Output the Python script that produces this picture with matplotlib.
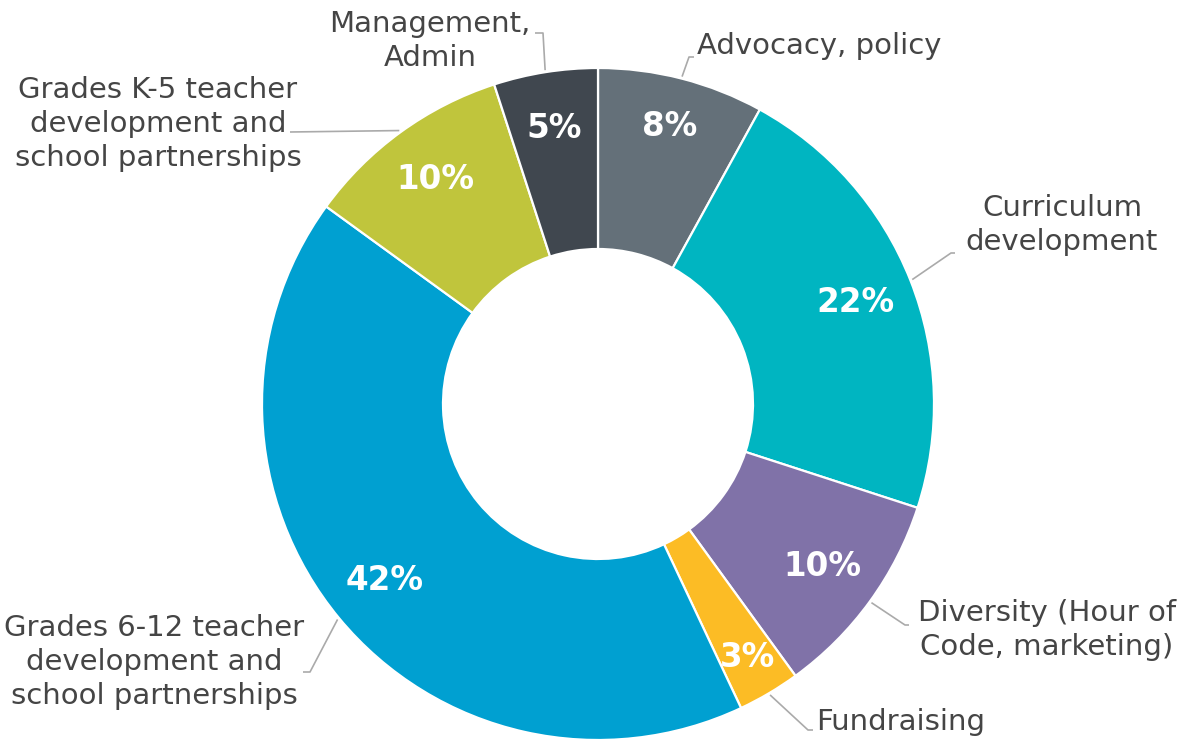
import numpy as np
import matplotlib
matplotlib.use("Agg")
import matplotlib.pyplot as plt

# budget share by area, clockwise from 12 o'clock
labels = ["Advocacy, policy",
          "Curriculum\ndevelopment",
          "Diversity (Hour of\nCode, marketing)",
          "Fundraising",
          "Grades 6-12 teacher\ndevelopment and\nschool partnerships",
          "Grades K-5 teacher\ndevelopment and\nschool partnerships",
          "Management,\nAdmin"]
shares = [8, 22, 10, 3, 42, 10, 5]
colors = ["#647079", "#00b5c1", "#8072a8", "#fcbc25", "#00a0d1", "#c0c53c", "#40474f"]

W, H = 1190, 741
plt.rcParams['font.family'] = ['DejaVu Sans']

fig = plt.figure(figsize=(W / 100, H / 100), dpi=100)
ax = fig.add_axes([0, 0, 1, 1])

cx, cy = 598, H - 404
R = 336
wedges, _, pcts = ax.pie(shares, colors=colors, startangle=90, counterclock=False,
                         radius=R, center=(cx, cy),
                         wedgeprops=dict(width=181, edgecolor='white', linewidth=1.6),
                         autopct=lambda p: f'{p:.0f}%', pctdistance=0.825,
                         textprops=dict(color='white', fontsize=23.5, fontweight='bold'))

# percent labels sit a bit further out on the narrow top/bottom slices
pct_r = [286, 277, 277, 294, 277, 277, 279]
for w, t, r in zip(wedges, pcts, pct_r):
    ang = np.deg2rad((w.theta1 + w.theta2) / 2)
    t.set_position((cx + r * np.cos(ang), cy + r * np.sin(ang)))

# leader line elbows and label anchors (image pixel coords): elbow x, elbow y, end x, text x, text y, align
layout = [
    (689, 57, 694, 697, 46, 'left'),
    (951, 253, 955, 1062, 225, 'center'),
    (905, 625, 909, 1047, 630, 'center'),
    (808, 730, 813, 816, 722, 'left'),
    (310, 672, 303, 154, 662, 'center'),
    (290, 132, 290, 158, 124, 'center'),
    (543, 33, 535, 430, 41, 'center'),
]

for w, lab, (ex, ey, endx, tx, ty, ha) in zip(wedges, labels, layout):
    ang = np.deg2rad((w.theta1 + w.theta2) / 2)
    sx, sy = cx + (R + 2) * np.cos(ang), cy + (R + 2) * np.sin(ang)
    ax.plot([sx, ex, endx], [sy, H - ey, H - ey], color='#aaaaaa', lw=1.2,
            solid_capstyle='butt', zorder=0)
    ax.text(tx, H - ty, lab, ha=ha, va='center', multialignment='center',
            fontsize=21, color='#454545', linespacing=1.25)

ax.set_xlim(0, W)
ax.set_ylim(0, H)
ax.set_aspect('equal')
ax.axis('off')

fig.savefig('out.png', dpi=100, facecolor='white')
